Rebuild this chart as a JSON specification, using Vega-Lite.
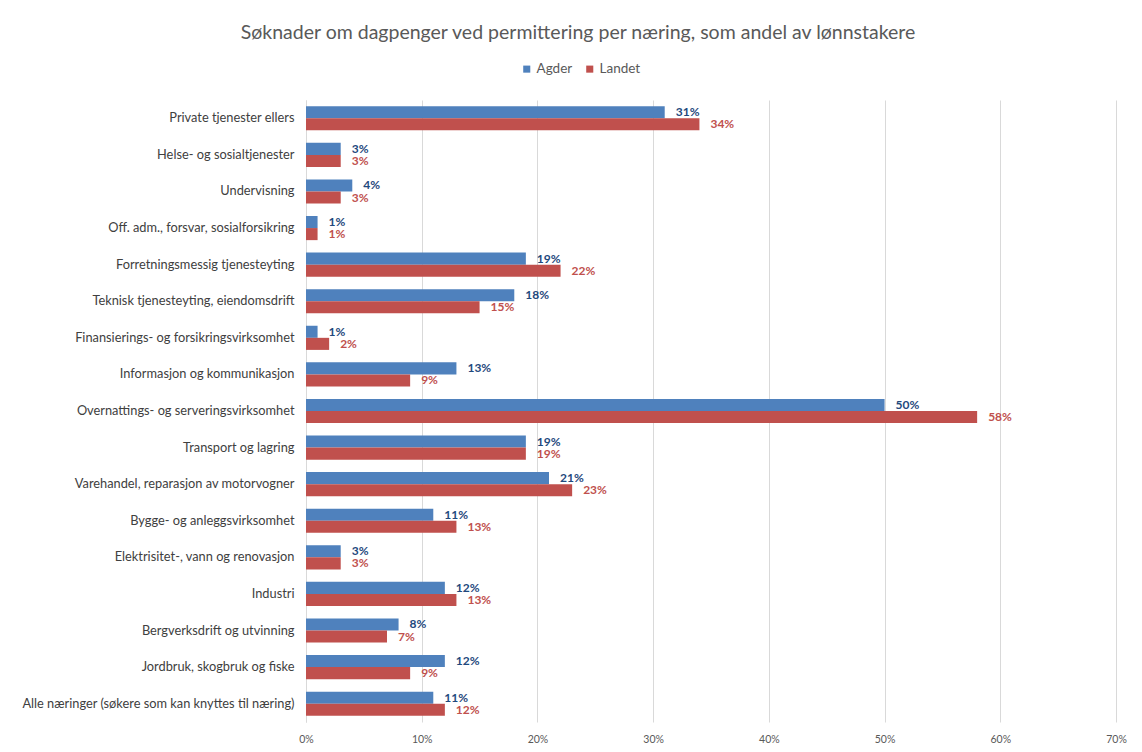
{
  "$schema": "https://vega.github.io/schema/vega-lite/v6.json",
  "width": 810,
  "height": 622,
  "autosize": {"type": "none"},
  "padding": {"left": 306, "top": 100, "right": 26, "bottom": 30},
  "background": "white",
  "title": {
    "text": "Søknader om dagpenger ved permittering per næring, som andel av lønnstakere",
    "font": "Lato",
    "fontSize": 19.5,
    "fontWeight": "normal",
    "color": "#595959",
    "anchor": "middle",
    "dx": -133,
    "offset": 19
  },
  "data": {
    "values": [
      {"naering": "Private tjenester ellers", "serie": "Agder", "andel": 0.31},
      {"naering": "Private tjenester ellers", "serie": "Landet", "andel": 0.34},
      {"naering": "Helse- og sosialtjenester", "serie": "Agder", "andel": 0.03},
      {"naering": "Helse- og sosialtjenester", "serie": "Landet", "andel": 0.03},
      {"naering": "Undervisning", "serie": "Agder", "andel": 0.04},
      {"naering": "Undervisning", "serie": "Landet", "andel": 0.03},
      {"naering": "Off. adm., forsvar, sosialforsikring", "serie": "Agder", "andel": 0.01},
      {"naering": "Off. adm., forsvar, sosialforsikring", "serie": "Landet", "andel": 0.01},
      {"naering": "Forretningsmessig tjenesteyting", "serie": "Agder", "andel": 0.19},
      {"naering": "Forretningsmessig tjenesteyting", "serie": "Landet", "andel": 0.22},
      {"naering": "Teknisk tjenesteyting, eiendomsdrift", "serie": "Agder", "andel": 0.18},
      {"naering": "Teknisk tjenesteyting, eiendomsdrift", "serie": "Landet", "andel": 0.15},
      {"naering": "Finansierings- og forsikringsvirksomhet", "serie": "Agder", "andel": 0.01},
      {"naering": "Finansierings- og forsikringsvirksomhet", "serie": "Landet", "andel": 0.02},
      {"naering": "Informasjon og kommunikasjon", "serie": "Agder", "andel": 0.13},
      {"naering": "Informasjon og kommunikasjon", "serie": "Landet", "andel": 0.09},
      {"naering": "Overnattings- og serveringsvirksomhet", "serie": "Agder", "andel": 0.50},
      {"naering": "Overnattings- og serveringsvirksomhet", "serie": "Landet", "andel": 0.58},
      {"naering": "Transport og lagring", "serie": "Agder", "andel": 0.19},
      {"naering": "Transport og lagring", "serie": "Landet", "andel": 0.19},
      {"naering": "Varehandel, reparasjon av motorvogner", "serie": "Agder", "andel": 0.21},
      {"naering": "Varehandel, reparasjon av motorvogner", "serie": "Landet", "andel": 0.23},
      {"naering": "Bygge- og anleggsvirksomhet", "serie": "Agder", "andel": 0.11},
      {"naering": "Bygge- og anleggsvirksomhet", "serie": "Landet", "andel": 0.13},
      {"naering": "Elektrisitet-, vann og renovasjon", "serie": "Agder", "andel": 0.03},
      {"naering": "Elektrisitet-, vann og renovasjon", "serie": "Landet", "andel": 0.03},
      {"naering": "Industri", "serie": "Agder", "andel": 0.12},
      {"naering": "Industri", "serie": "Landet", "andel": 0.13},
      {"naering": "Bergverksdrift og utvinning", "serie": "Agder", "andel": 0.08},
      {"naering": "Bergverksdrift og utvinning", "serie": "Landet", "andel": 0.07},
      {"naering": "Jordbruk, skogbruk og fiske", "serie": "Agder", "andel": 0.12},
      {"naering": "Jordbruk, skogbruk og fiske", "serie": "Landet", "andel": 0.09},
      {"naering": "Alle næringer (søkere som kan knyttes til næring)", "serie": "Agder", "andel": 0.11},
      {"naering": "Alle næringer (søkere som kan knyttes til næring)", "serie": "Landet", "andel": 0.12}
    ]
  },
  "encoding": {
    "y": {
      "field": "naering",
      "type": "nominal",
      "sort": null,
      "title": null,
      "scale": {"paddingInner": 0.34, "paddingOuter": 0.17},
      "axis": {
        "ticks": false,
        "domain": true,
        "domainColor": "#d9d9d9",
        "domainWidth": 1,
        "labelPadding": 12,
        "labelFont": "Lato",
        "labelFontSize": 12.8,
        "labelColor": "#404040",
        "labelLimit": 400,
        "grid": false
      }
    },
    "yOffset": {
      "field": "serie",
      "type": "nominal",
      "scale": {"domain": ["Agder", "Landet"], "paddingInner": 0, "paddingOuter": 0}
    },
    "x": {
      "field": "andel",
      "type": "quantitative",
      "title": null,
      "scale": {"domain": [0, 0.7], "nice": false},
      "axis": {
        "format": ".0%",
        "values": [0, 0.1, 0.2, 0.3, 0.4, 0.5, 0.6, 0.7],
        "ticks": false,
        "domain": false,
        "grid": true,
        "gridColor": "#d9d9d9",
        "gridWidth": 1,
        "labelFlush": false,
        "labelPadding": 12,
        "labelFont": "Lato",
        "labelFontSize": 10.5,
        "labelColor": "#595959"
      }
    }
  },
  "layer": [
    {
      "mark": {"type": "bar"},
      "encoding": {
        "color": {
          "field": "serie",
          "type": "nominal",
          "title": null,
          "scale": {"domain": ["Agder", "Landet"], "range": ["#4F81BD", "#C0504D"]},
          "legend": {
            "orient": "none",
            "legendX": 214,
            "legendY": -38,
            "direction": "horizontal",
            "symbolType": "square",
            "symbolSize": 50,
            "symbolStrokeWidth": 0,
            "labelFont": "Lato",
            "labelFontSize": 13.5,
            "labelColor": "#595959",
            "columnPadding": 10,
            "labelOffset": 3
          }
        }
      }
    },
    {
      "mark": {"type": "text", "align": "left", "baseline": "middle", "dx": 11, "font": "Lato", "fontSize": 12, "fontWeight": "bold"},
      "encoding": {
        "text": {"field": "andel", "type": "quantitative", "format": ".0%"},
        "color": {
          "field": "serie",
          "type": "nominal",
          "scale": {"domain": ["Agder", "Landet"], "range": ["#1F497D", "#C0504D"]},
          "legend": null
        }
      }
    }
  ],
  "resolve": {"scale": {"color": "independent"}},
  "config": {
    "view": {"stroke": null},
    "legend": {"symbolStrokeWidth": 0}
  }
}
